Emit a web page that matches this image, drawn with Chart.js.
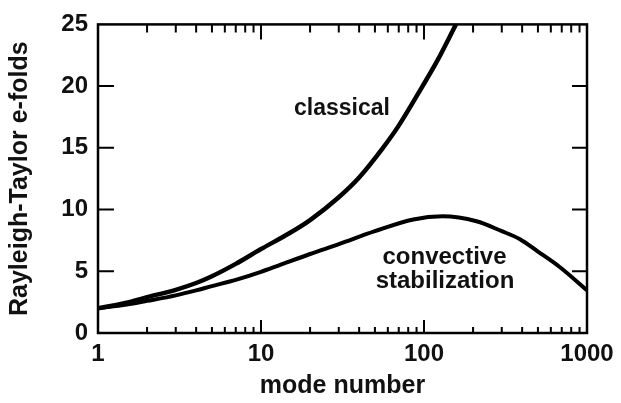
<!DOCTYPE html>
<html>
<head>
<meta charset="utf-8">
<script src="https://cdn.jsdelivr.net/npm/chart.js@4"></script>
<style>
  html, body { margin: 0; padding: 0; background: #fff; }
  #wrap { width: 621px; height: 403px; }
</style>
</head>
<body>
<div id="wrap"><canvas id="c" width="621" height="403"></canvas></div>
<script>
// ---- data ----
const classicalX = [1, 1.5, 2, 3, 4, 5, 7, 10, 15, 20, 30, 40, 56, 70, 97, 120, 157];
const classicalY = [2.0, 2.45, 2.9, 3.5, 4.05, 4.6, 5.6, 6.8, 8.1, 9.15, 11.0, 12.6, 15.0, 16.8, 19.9, 22.0, 25.0];

const convectiveX = [1, 1.5, 2, 3, 4, 5, 7, 10, 13, 20, 30, 50, 86, 130, 210, 300, 388, 500, 683, 1000];
const convectiveY = [2.0, 2.3, 2.6, 3.05, 3.45, 3.8, 4.3, 4.95, 5.5, 6.4, 7.2, 8.25, 9.2, 9.45, 9.05, 8.25, 7.6, 6.6, 5.33, 3.46];

const xTickValues = [1, 10, 100, 1000];
const yTickValues = [0, 5, 10, 15, 20, 25];
const xMinorTicks = [2,3,4,5,6,7,8,9,20,30,40,50,60,70,80,90,200,300,400,500,600,700,800,900];
const yInnerTicks = [5, 10, 15, 20];

const labelTexts = ['classical', 'convective', 'stabilization'];
const labelX = [31.4, 133.6, 134.5];
const labelY = [17.68, 5.63, 3.62];

const FONT = '"Liberation Sans", Arial, Helvetica, sans-serif';

function toPts(xs, ys) { return xs.map((x, i) => ({x: x, y: ys[i]})); }

const framePlugin = {
  id: 'framePlugin',
  afterDatasetsDraw(chart) {
    const {ctx, chartArea: a, scales: {x, y}} = chart;
    ctx.save();
    ctx.strokeStyle = '#000';
    ctx.lineCap = 'butt';
    // ticks
    ctx.lineWidth = 2;
    ctx.beginPath();
    xMinorTicks.forEach(v => {
      const px = x.getPixelForValue(v);
      ctx.moveTo(px, a.top); ctx.lineTo(px, a.top + 8);
      ctx.moveTo(px, a.bottom); ctx.lineTo(px, a.bottom - 6);
    });
    [10, 100].forEach(v => {
      const px = x.getPixelForValue(v);
      ctx.moveTo(px, a.top); ctx.lineTo(px, a.top + 15);
      ctx.moveTo(px, a.bottom); ctx.lineTo(px, a.bottom - 13);
    });
    yInnerTicks.forEach(v => {
      const py = y.getPixelForValue(v);
      ctx.moveTo(a.left, py); ctx.lineTo(a.left + 16, py);
      ctx.moveTo(a.right, py); ctx.lineTo(a.right - 15, py);
    });
    ctx.stroke();
    // frame
    ctx.lineWidth = 2.5;
    ctx.strokeRect(a.left, a.top, a.right - a.left, a.bottom - a.top);
    // annotations
    ctx.fillStyle = '#111';
    ctx.textAlign = 'center';
    ctx.textBaseline = 'alphabetic';
    labelTexts.forEach((t, i) => {
      ctx.font = 'bold ' + (i === 0 ? 23 : 24) + 'px ' + FONT;
      ctx.fillText(t, x.getPixelForValue(labelX[i]), y.getPixelForValue(labelY[i]));
    });
    ctx.restore();
  }
};

new Chart(document.getElementById('c'), {
  type: 'line',
  data: {
    datasets: [
      {
        label: 'classical',
        data: toPts(classicalX, classicalY),
        borderColor: '#000',
        borderWidth: 4.5,
        pointRadius: 0,
        cubicInterpolationMode: 'monotone',
        fill: false
      },
      {
        label: 'convective stabilization',
        data: toPts(convectiveX, convectiveY),
        borderColor: '#000',
        borderWidth: 4,
        pointRadius: 0,
        cubicInterpolationMode: 'monotone',
        fill: false
      }
    ]
  },
  options: {
    responsive: false,
    animation: false,
    devicePixelRatio: 1,
    layout: { padding: { top: 22, right: 34, left: 0, bottom: 0 } },
    plugins: {
      legend: { display: false },
      tooltip: { enabled: false }
    },
    scales: {
      x: {
        type: 'logarithmic',
        min: 1,
        max: 1000,
        afterBuildTicks: s => { s.ticks = xTickValues.map(v => ({value: v})); },
        afterFit: s => { s.height = 70; },
        grid: { display: false, drawTicks: false },
        border: { display: false },
        ticks: {
          color: '#111',
          padding: 7,
          maxRotation: 0,
          autoSkip: false,
          font: { family: FONT, size: 24, weight: 'bold' },
          callback: v => String(v)
        },
        title: {
          display: true,
          text: 'mode number',
          color: '#111',
          padding: { top: 0, bottom: 2 },
          font: { family: FONT, size: 25, weight: 'bold' }
        }
      },
      y: {
        type: 'linear',
        min: 0,
        max: 25,
        afterBuildTicks: s => { s.ticks = yTickValues.map(v => ({value: v})); },
        afterFit: s => { s.width = 98; },
        grid: { display: false, drawTicks: false },
        border: { display: false },
        ticks: {
          color: '#111',
          padding: 10,
          font: { family: FONT, size: 24, weight: 'bold' }
        },
        title: {
          display: true,
          text: 'Rayleigh-Taylor e-folds',
          color: '#111',
          padding: { top: 5, bottom: 0 },
          font: { family: FONT, size: 25, weight: 'bold' }
        }
      }
    }
  },
  plugins: [framePlugin]
});
</script>
</body>
</html>
